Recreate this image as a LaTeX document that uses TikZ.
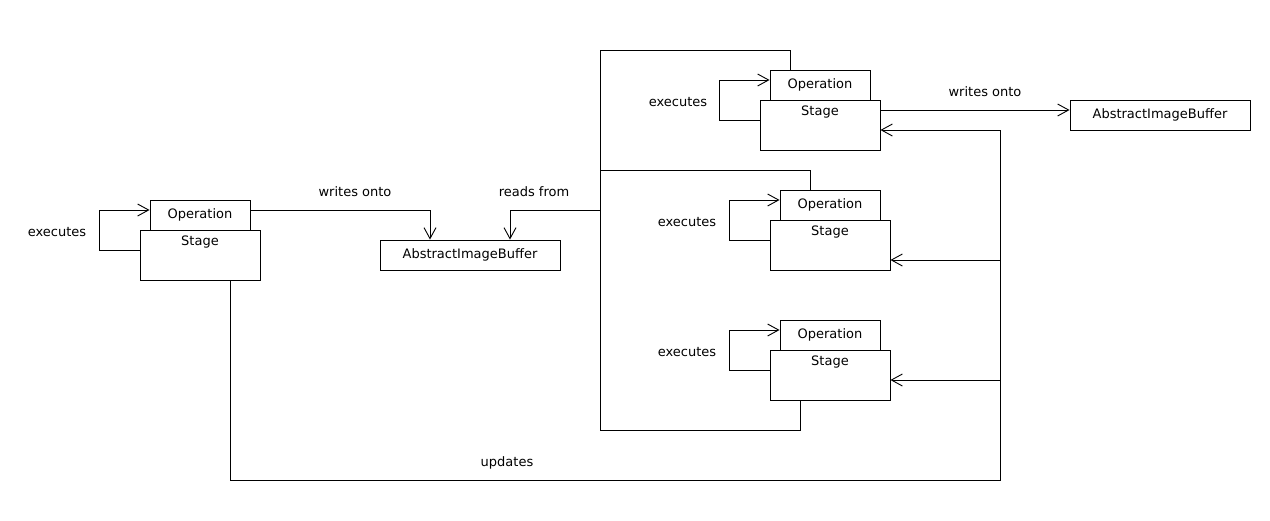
\documentclass[tikz,border=0pt]{standalone}
\usepackage{fontspec}
\setmainfont{DejaVu Sans}
\usetikzlibrary{arrows.meta}

\begin{document}
\begin{tikzpicture}[x=1pt, y=-1pt, line width=0.9pt,
		font=\fontsize{13}{15}\selectfont,
		opbox/.style = {draw, rectangle, inner sep=0pt, minimum width=100pt, minimum height=30pt},
		stagebox/.style = {draw, rectangle, inner sep=0pt, minimum width=120pt, minimum height=50pt,
			label={[anchor=north, inner sep=0pt, yshift=-6pt]north:Stage}},
		bufbox/.style = {draw, rectangle, inner sep=0pt, minimum width=180pt, minimum height=30pt},
		arr/.style = {-{Straight Barb[length=11pt, width=12pt]}}]
	\useasboundingbox (0,0) rectangle (1270,520);
		\node [opbox] (opL) at (200, 215) {Operation};
		\node [stagebox] (sL) at (200, 255) {};
		\node [opbox] (opA) at (820, 85) {Operation};
		\node [stagebox] (sA) at (820, 125) {};
		\node [opbox] (opB) at (830, 205) {Operation};
		\node [stagebox] (sB) at (830, 245) {};
		\node [opbox] (opC) at (830, 335) {Operation};
		\node [stagebox] (sC) at (830, 375) {};
		\node [bufbox] (bufM) at (470, 255) {AbstractImageBuffer};
		\node [bufbox] (bufR) at (1160, 115) {AbstractImageBuffer};
		\node (exL) at (57, 232) {executes};
		\node (exA) at (678, 102) {executes};
		\node (exB) at (687, 222) {executes};
		\node (exC) at (687, 352) {executes};
		\node (wrL) at (355, 192) {writes onto};
		\node (rdM) at (534, 192) {reads from};
		\node (wrR) at (985, 92) {writes onto};
		\node (upd) at (507, 463) {updates};
		\coordinate (rtop) at (600, 50);
		\coordinate (rmid) at (600, 170);
		\coordinate (rbuf) at (600, 210);
		\coordinate (rbot) at (600, 430);
		\coordinate (bus) at (1000, 480);
	% executes loops
	\foreach \g in {L, A, B, C}
		\draw [arr] ([yshift=5pt]s\g.west) -- ++(-40, 0) |- ([yshift=5pt]op\g.west);
	% writes onto
		\draw [arr] ([yshift=5pt]opL.east) -| ([xshift=-40pt]bufM.north);
		\draw [arr] ([yshift=15pt]sA.east) -- ([yshift=15pt]sA.east -| bufR.west);
	% reads from
		\draw ([xshift=-30pt]opA.north) |- (rtop) -- (rbot) -| ([xshift=-30pt]sC.south);
		\draw (rmid) -| ([xshift=-20pt]opB.north);
		\draw [arr] (rbuf) -| ([xshift=40pt]bufM.north);
	% updates
		\draw [arr] ([xshift=30pt]sL.south) |- (bus) |- ([yshift=-5pt]sA.east);
		\draw [arr] ([yshift=-15pt]sB.east -| bus) -- ([yshift=-15pt]sB.east);
		\draw [arr] ([yshift=-5pt]sC.east -| bus) -- ([yshift=-5pt]sC.east);
\end{tikzpicture}
\end{document}
